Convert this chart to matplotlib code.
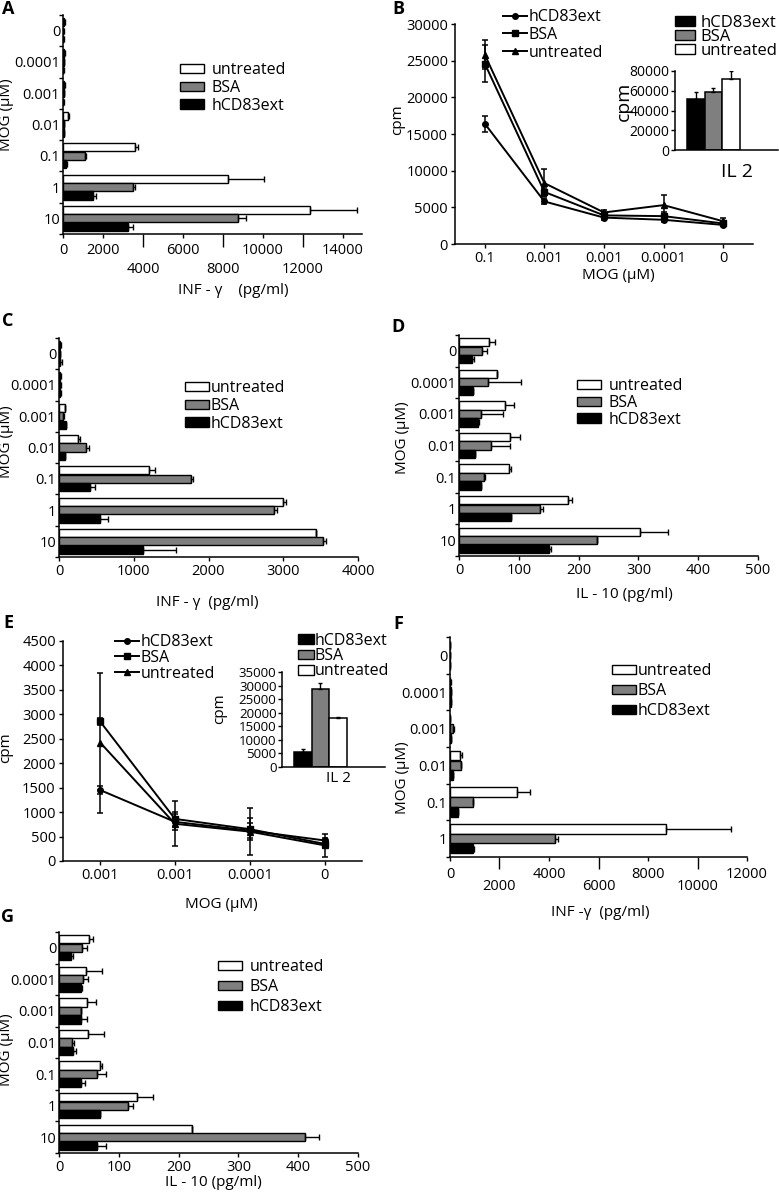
import numpy as np
import matplotlib
matplotlib.use("Agg")
import matplotlib.pyplot as plt
from matplotlib.patches import Patch
from matplotlib.lines import Line2D

plt.rcParams['font.family'] = ['Open Sans', 'DejaVu Sans']
plt.rcParams['axes.linewidth'] = 1.1

W, H = 779, 1199

# ---------------- data ----------------
mog7 = ["0", "0.0001", "0.001", "0.01", "0.1", "1", "10"]
mog6 = ["0", "0.0001", "0.001", "0.01", "0.1", "1"]

# A: INF-gamma (pg/ml)
a_untr = [40, 40, 50, 250, 3580, 8270, 12370]
a_untr_err = [60, 60, 60, 40, 170, 1780, 2330]
a_bsa = [20, 30, 30, 40, 1080, 3500, 8750]
a_bsa_err = [40, 40, 40, 30, 60, 120, 420]
a_hcd = [10, 20, 20, 30, 170, 1500, 3250]
a_hcd_err = [30, 30, 30, 20, 30, 130, 250]

# B: proliferation (cpm)
b_cats = ["0.1", "0.001", "0.001", "0.0001", "0"]
b_hcd = [16400, 5800, 3600, 3300, 2600]
b_hcd_err = [1100, 300, 300, 300, 200]
b_bsa = [24600, 7100, 3900, 3800, 2800]
b_bsa_err = [2500, 600, 300, 500, 300]
b_untr = [25800, 8300, 4300, 5300, 3100]
b_untr_err = [2000, 1900, 400, 1400, 400]
b_il2 = [51300, 58800, 72000]
b_il2_err = [7700, 3700, 8000]

# C: INF-gamma (pg/ml)
c_untr = [10, 20, 76, 254, 1205, 3000, 3433]
c_untr_err = [20, 10, 10, 23, 76, 36, 0]
c_bsa = [10, 20, 60, 357, 1763, 2880, 3536]
c_bsa_err = [10, 10, 10, 45, 23, 40, 35]
c_hcd = [10, 20, 89, 76, 411, 545, 1125]
c_hcd_err = [30, 10, 10, 10, 67, 111, 438]

# D: IL-10 (pg/ml)
d_untr = [50, 64, 77, 85, 84, 182, 303]
d_untr_err = [10, 0, 15, 17, 3, 7, 46]
d_bsa = [39, 48, 36, 53, 42, 135, 230]
d_bsa_err = [7, 56, 37, 32, 2, 6, 0]
d_hcd = [21, 23, 31, 26, 37, 87, 150]
d_hcd_err = [4, 0, 3, 0, 0, 0, 4]

# E: proliferation (cpm)
e_cats = ["0.001", "0.001", "0.0001", "0"]
e_hcd = [1450, 800, 620, 420]
e_hcd_err = [90, 170, 160, 60]
e_bsa = [2850, 860, 650, 350]
e_bsa_err = [70, 140, 220, 80]
e_untr = [2420, 760, 600, 320]
e_untr_err = [1430, 460, 480, 230]
e_il2 = [5600, 28700, 18200]
e_il2_err = [1100, 2400, 200]

# F: INF-gamma (pg/ml)
f_untr = [10, 20, 10, 400, 2690, 8720]
f_untr_err = [10, 20, 10, 70, 540, 2650]
f_bsa = [10, 30, 135, 440, 940, 4240]
f_bsa_err = [10, 20, 20, 20, 0, 130]
f_hcd = [10, 30, 30, 110, 340, 940]
f_hcd_err = [10, 10, 20, 20, 0, 30]

# G: IL-10 (pg/ml)
g_untr = [50, 45, 47, 48, 69, 130, 222]
g_untr_err = [7, 27, 15, 28, 3, 28, 0]
g_bsa = [38, 40, 36, 21, 64, 115, 412]
g_bsa_err = [8, 8, 0, 4, 14, 9, 22]
g_hcd = [20, 36, 37, 23, 36, 69, 64]
g_hcd_err = [3, 3, 10, 5, 7, 0, 14]

WHITE, GREY, BLACK = "white", "#7f7f7f", "black"

fig = plt.figure(figsize=(W / 100, H / 100), dpi=100)


# ---------------- helpers ----------------
def add_ax(left, top, right, bottom):
    ax = fig.add_axes([left / W, 1 - bottom / H, (right - left) / W, (bottom - top) / H])
    ax.spines["top"].set_visible(False)
    ax.spines["right"].set_visible(False)
    return ax


def ftext(x, y, s, **kw):
    kw.setdefault("ha", "center")
    kw.setdefault("va", "center")
    fig.text(x / W, 1 - y / H, s, **kw)


def bar_legend(ax, x, y, labels, colors, fs=11, hl=1.5, pad=0.5, spacing=0.12):
    handles = [Patch(facecolor=c, edgecolor="black", linewidth=1) for c in colors]
    ax.legend(handles, labels, loc="center left", bbox_to_anchor=(x / W, 1 - y / H),
              bbox_transform=fig.transFigure, frameon=False, fontsize=fs,
              handlelength=hl, handleheight=0.55, handletextpad=pad,
              labelspacing=spacing, borderpad=0, borderaxespad=0)


def hbar_panel(rect, cats, untr, untr_e, bsa, bsa_e, hcd, hcd_e, xmax):
    ax = add_ax(*rect)
    pos = np.arange(len(cats))
    for off, vals, errs, col in [(-0.27, untr, untr_e, WHITE),
                                 (0.0, bsa, bsa_e, GREY),
                                 (0.27, hcd, hcd_e, BLACK)]:
        ax.barh(pos + off, vals, height=0.26, color=col, edgecolor="black", linewidth=1)
        ax.errorbar(vals, pos + off, xerr=[np.zeros(len(vals)), errs], fmt="none",
                    ecolor="black", elinewidth=1, capsize=2.2, capthick=1)
    ax.set_ylim(len(cats) - 0.5, -0.5)
    ax.set_xlim(0, xmax)
    ax.set_yticks(pos, cats)
    ax.set_yticks(np.arange(len(cats) + 1) - 0.5, minor=True)
    ax.tick_params(axis="y", which="major", length=0, pad=2, labelsize=10.5)
    ax.tick_params(axis="y", which="minor", length=3, width=1)
    ax.tick_params(axis="x", which="major", length=3, width=1, labelsize=10.5, pad=2)
    return ax


def line_panel(rect, cats, series, ylim, ystep):
    ax = add_ax(*rect)
    x = np.arange(len(cats))
    for vals, errs, mk, ms in series:
        ax.errorbar(x, vals, yerr=errs, color="black", marker=mk, ms=ms, lw=1.4,
                    elinewidth=1.1, capsize=2.5, capthick=1.1)
    ax.set_xlim(-0.5, len(cats) - 0.5)
    ax.set_ylim(0, ylim)
    ax.set_xticks(x, cats)
    ax.set_yticks(np.arange(0, ylim + 1, ystep))
    ax.tick_params(length=3, width=1, labelsize=10.5, pad=2)
    return ax


def inset_bars(rect, vals, errs, ylim, ystep, fs):
    ax = add_ax(*rect)
    x = np.arange(3)
    ax.bar(x, vals, width=1.0, color=[BLACK, GREY, WHITE], edgecolor="black", linewidth=1.1)
    ax.errorbar(x, vals, yerr=[np.zeros(3), errs], fmt="none", ecolor="black",
                elinewidth=1, capsize=1.5, capthick=1)
    ax.set_xlim(-1.19, 4.7)
    ax.set_ylim(0, ylim)
    ax.set_xticks([])
    ax.set_yticks(np.arange(0, ylim + 1, ystep))
    ax.tick_params(axis="y", length=3, width=1, labelsize=fs, pad=1)
    return ax


groups = ["untreated", "BSA", "hCD83ext"]
gcols = [WHITE, GREY, BLACK]
lh = [Line2D([], [], color="black", marker=m, ms=s, lw=1.4)
      for m, s in [("o", 4), ("s", 4), ("^", 4.5)]]

# ---------------- A ----------------
ax = hbar_panel((63, 15, 362, 234), mog7, a_untr, a_untr_err, a_bsa, a_bsa_err,
                a_hcd, a_hcd_err, 14950)
ax.set_xticks([0, 2000, 6000, 10000, 14000], ["0", "2000", "6000", "10000", "14000"])
ax.set_xticks([4000, 8000, 12000], ["4000", "8000", "12000"], minor=True)
ax.tick_params(axis="x", which="major", length=3, pad=3.5)
ax.tick_params(axis="x", which="minor", length=9.4, width=1, pad=11, labelsize=10.5)
bar_legend(ax, 180, 88, groups, gcols, fs=11.5)
ftext(233, 290, "INF - γ    (pg/ml)", fontsize=11)
ftext(7, 115, "MOG (μM)", rotation=90, fontsize=11)
ftext(8, 9, "A", fontsize=13, fontweight="bold")

# ---------------- B ----------------
ax = line_panel((455, 24, 753, 244), b_cats,
                [(b_hcd, b_hcd_err, "o", 4), (b_bsa, b_bsa_err, "s", 4),
                 (b_untr, b_untr_err, "^", 4.5)], 30000, 5000)
ax.legend(lh, ["hCD83ext", "BSA", "untreated"], loc="center left",
          bbox_to_anchor=(503 / W, 1 - 35 / H), bbox_transform=fig.transFigure,
          frameon=False, fontsize=11.5, handlelength=1.5, handletextpad=0.1,
          labelspacing=0.1, borderpad=0, borderaxespad=0)
ftext(618, 276, "MOG (μM)", fontsize=11)
ftext(398, 120, "cpm", rotation=90, fontsize=11)
ftext(398, 9, "B", fontsize=13, fontweight="bold")

ax = inset_bars((675, 71, 778, 150), b_il2, b_il2_err, 80000, 20000, 10)
bar_legend(ax, 675, 37, ["hCD83ext", "BSA", "untreated"], [BLACK, GREY, WHITE],
           fs=12, hl=1.2, pad=0.35, spacing=-0.12)
ftext(624, 101, "cpm", rotation=90, fontsize=14)
ftext(737, 172, "IL 2", fontsize=14)

# ---------------- C ----------------
ax = hbar_panel((59, 338, 358, 557), mog7, c_untr, c_untr_err, c_bsa, c_bsa_err,
                c_hcd, c_hcd_err, 4000)
ax.set_xticks(np.arange(0, 4001, 1000))
bar_legend(ax, 185, 406, groups, gcols, fs=11.5, pad=0.1)
ftext(207, 602, "INF - γ  (pg/ml)", fontsize=11)
ftext(7, 442, "MOG (μM)", rotation=90, fontsize=11)
ftext(8, 321, "C", fontsize=13, fontweight="bold")

# ---------------- D ----------------
ax = hbar_panel((459, 335, 758, 556), mog7, d_untr, d_untr_err, d_bsa, d_bsa_err,
                d_hcd, d_hcd_err, 500)
ax.set_xticks(np.arange(0, 501, 100))
bar_legend(ax, 577, 403, groups, gcols, fs=11.5, spacing=0.05)
ftext(624, 595, "IL - 10 (pg/ml)", fontsize=11)
ftext(402, 438, "MOG (μM)", rotation=90, fontsize=11)
ftext(398, 327, "D", fontsize=13, fontweight="bold")

# ---------------- E ----------------
ax = line_panel((62.7, 640.7, 362, 861), e_cats,
                [(e_hcd, e_hcd_err, "o", 4), (e_bsa, e_bsa_err, "s", 4),
                 (e_untr, e_untr_err, "^", 4.5)], 4500, 500)
ax.legend(lh, ["hCD83ext", "BSA", "untreated"], loc="center left",
          bbox_to_anchor=(115 / W, 1 - 658 / H), bbox_transform=fig.transFigure,
          frameon=False, fontsize=11.5, handlelength=1.5, handletextpad=0.1,
          labelspacing=-0.03, borderpad=0, borderaxespad=0)
ftext(221, 905, "MOG (μM)", fontsize=11)
ftext(6, 748, "cpm", rotation=90, fontsize=11)
ftext(8, 623, "E", fontsize=13, fontweight="bold")

ax = inset_bars((282, 672, 385, 767), e_il2, e_il2_err, 35000, 5000, 9.5)
bar_legend(ax, 298, 656, ["hCD83ext", "BSA", "untreated"], [BLACK, GREY, WHITE],
           fs=11.5, hl=1.0, pad=0.05, spacing=-0.04)
ftext(220, 709, "cpm", rotation=90, fontsize=11)
ftext(338, 779, "IL 2", fontsize=11)

# ---------------- F ----------------
ax = hbar_panel((450, 637, 747, 857), mog6, f_untr, f_untr_err, f_bsa, f_bsa_err,
                f_hcd, f_hcd_err, 12000)
ax.set_xticks([0, 4000, 8000, 12000], ["0", "4000", "8000", "12000"])
ax.set_xticks([2000, 6000, 10000], ["2000", "6000", "10000"], minor=True)
ax.tick_params(axis="x", which="major", length=3, pad=4.3)
ax.tick_params(axis="x", which="minor", length=8.6, width=1, pad=7.5, labelsize=10.5)
bar_legend(ax, 612, 691, groups, gcols, fs=11.5, pad=0.1, spacing=0.25)
ftext(600, 913, "INF -γ  (pg/ml)", fontsize=11)
ftext(402, 778, "MOG (μM)", rotation=90, fontsize=11)
ftext(398, 624, "F", fontsize=13, fontweight="bold")

# ---------------- G ----------------
ax = hbar_panel((59, 932, 358, 1153), mog7, g_untr, g_untr_err, g_bsa, g_bsa_err,
                g_hcd, g_hcd_err, 500)
ax.set_xticks(np.arange(0, 501, 100))
bar_legend(ax, 218, 987, groups, gcols, fs=11.5, spacing=0.25)
ftext(213, 1183, "IL - 10 (pg/ml)", fontsize=11)
ftext(7, 1050, "MOG (μM)", rotation=90, fontsize=11)
ftext(8, 917, "G", fontsize=13, fontweight="bold")

fig.savefig("out.png", dpi=100)
